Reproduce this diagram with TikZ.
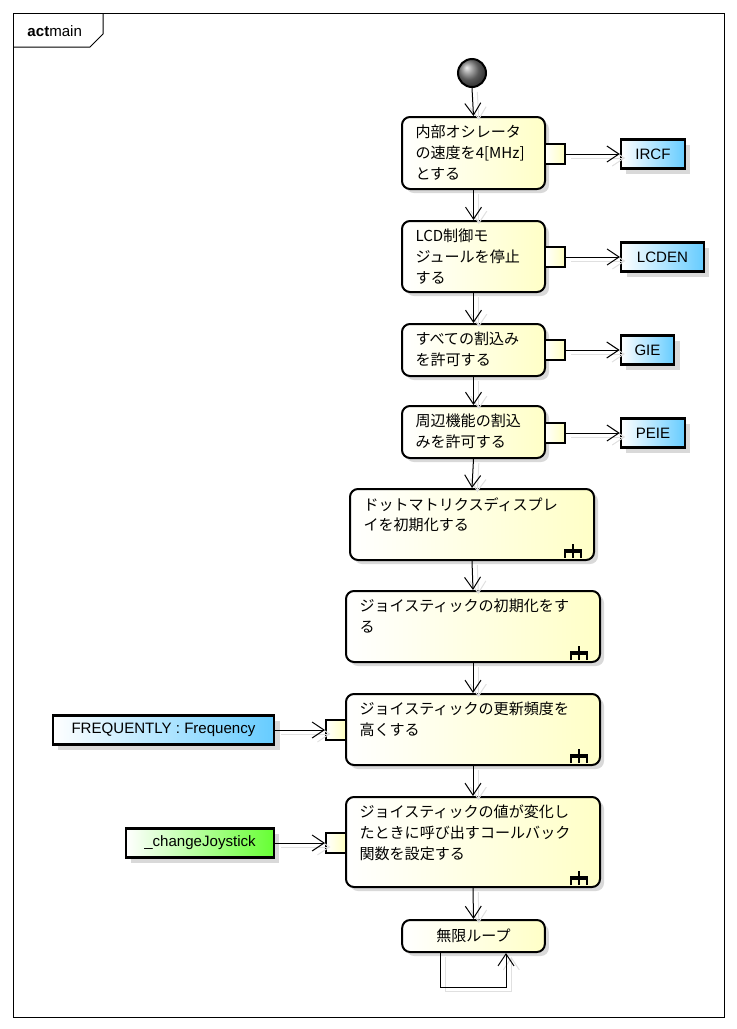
\documentclass[tikz,border=0pt]{standalone}
\usepackage{fontspec}
\setmainfont{Liberation Sans}
\newfontfamily\jpfont{Noto Sans CJK JP}
\usetikzlibrary{arrows.meta,shadows,fit}

\definecolor{objblue}{RGB}{102,204,255}
\definecolor{objgreen}{RGB}{102,255,51}
\newcommand{\actfont}{\jpfont\fontsize{11.3}{15.5}\selectfont}
\newcommand{\objfont}{\fontsize{11.3}{13}\selectfont}
% small rake mark of a call behaviour action
\newcommand{\rakeicon}[1]{%
  \draw[line width=1.6pt,shift={(#1.south east)}]
    (-30,-3) -- (-30,-11) (-14,-3) -- (-14,-11) (-22,-3) -- (-22,-17);
  \draw[line width=2.6pt,shift={(#1.south east)}] (-31,-10) -- (-13,-10);}

\begin{document}
\begin{tikzpicture}[x=0.75pt,y=-0.75pt,line width=0.75pt,
  action/.style={draw,line width=1.5pt,rounded corners=6pt,inner sep=0pt,
    left color=white,right color=yellow!22,font=\actfont,
    drop shadow={shadow xshift=3pt,shadow yshift=-3pt,fill=black!15,opacity=1}},
  acttext/.style={anchor=north west,inner sep=0pt,align=left,font=\actfont,
    xshift=10.5pt,yshift=-6.5pt},
  pinbox/.style={draw,line width=1.5pt,minimum size=15pt,inner sep=0pt,
    left color=white,right color=yellow!25},
  objbox/.style={draw,line width=1.8pt,inner sep=0pt,font=\objfont,
    minimum height=22pt,left color=white,right color=#1,
    drop shadow={shadow xshift=4pt,shadow yshift=-4pt,fill=black!15,opacity=1}},
  objbox/.default=objblue,
  flow/.style={-{Straight Barb[length=9pt,width=12pt]},
    preaction={draw=black!12,transform canvas={shift={(4pt,-3pt)}}}}]
  \useasboundingbox (0,0) rectangle (737,1029);

  % frame
  \draw (13,13) rectangle (724,1017);
  \draw (13,47) -- (90,47) -- (103,34) -- (103,13);
  \node[anchor=west,inner sep=0pt,font=\objfont] (title) at (27,31)
    {\textbf{act}main};

  \node[circle,draw,line width=1.5pt,minimum size=21pt,inner sep=0pt,
    shading=ball,ball color=black!50] (start) at (472,73) {};

  % actions
  \node[action,fit={(402,117) (545,189)}] (a1) {};
  \node[acttext] (a1t) at (a1.north west) {内部オシレータ\\の速度を4[MHz]\\とする};
  \node[action,fit={(402,221) (545,292)}] (a2) {};
  \node[acttext] (a2t) at (a2.north west) {LCD制御モ\\ジュールを停止\\する};
  \node[action,fit={(402,324) (545,376)}] (a3) {};
  \node[acttext] (a3t) at (a3.north west) {すべての割込み\\を許可する};
  \node[action,fit={(402,406) (545,458)}] (a4) {};
  \node[acttext] (a4t) at (a4.north west) {周辺機能の割込\\みを許可する};
  \node[action,fit={(350,489) (594,560)}] (a5) {};
  \node[acttext] (a5t) at (a5.north west) {ドットマトリクスディスプレ\\イを初期化する};
  \node[action,fit={(346,591) (600,662)}] (a6) {};
  \node[acttext] (a6t) at (a6.north west) {ジョイスティックの初期化をす\\る};
  \node[action,fit={(346,694) (600,765)}] (a7) {};
  \node[acttext] (a7t) at (a7.north west) {ジョイスティックの更新頻度を\\高くする};
  \node[action,fit={(346,797) (600,887)}] (a8) {};
  \node[acttext] (a8t) at (a8.north west)
    {ジョイスティックの値が変化し\\たときに呼び出すコールバック\\関数を設定する};
  \node[action,minimum width=107pt,minimum height=24pt] (a9) at (473.5,936)
    {無限ループ};
  \rakeicon{a5}
  \rakeicon{a6}
  \rakeicon{a7}
  \rakeicon{a8}

  % pins and objects
  \node[pinbox] (p1) at (555,154) {};
  \node[pinbox] (p2) at (555,257) {};
  \node[pinbox] (p3) at (555,350) {};
  \node[pinbox] (p4) at (555,433) {};
  \node[pinbox] (p7) at (336,730) {};
  \node[pinbox] (p8) at (336,843) {};
  \node[objbox,minimum width=48pt] (ircf) at (653,154) {IRCF};
  \node[objbox,minimum width=62pt] (lcden) at (662.5,257) {LCDEN};
  \node[objbox,minimum width=40pt] (gie) at (647.5,350) {GIE};
  \node[objbox,minimum width=48pt] (peie) at (653,433) {PEIE};
  \node[objbox,minimum width=166pt] (freq) at (163.5,730) {FREQUENTLY : Frequency};
  \node[objbox=objgreen,minimum width=111pt] (cjoy) at (200,843) {\_changeJoystick};

  % control flow
  \draw[flow] (start.south) -- (a1.north);
  \draw[flow] (a1.south) -- (a2.north);
  \draw[flow] (a2.south) -- (a3.north);
  \draw[flow] (a3.south) -- (a4.north);
  \draw[flow] (a4.south) -- (a5.north);
  \draw[flow] (a5.south) -- (a6.north);
  \draw[flow] (a6.south) -- (a7.north);
  \draw[flow] (a7.south) -- (a8.north);
  \draw[flow] (a8.south) -- (a9.north);
  \coordinate (loopl) at (440,987);
  \coordinate (loopr) at (506,987);
  \draw[flow] (loopl |- a9.south) -- (loopl) -- (loopr) -- (loopr |- a9.south);

  % object flow
  \draw[flow] (p1.east) -- (ircf.west);
  \draw[flow] (p2.east) -- (lcden.west);
  \draw[flow] (p3.east) -- (gie.west);
  \draw[flow] (p4.east) -- (peie.west);
  \draw[flow] (freq.east) -- (p7.west);
  \draw[flow] (cjoy.east) -- (p8.west);
\end{tikzpicture}
\end{document}
